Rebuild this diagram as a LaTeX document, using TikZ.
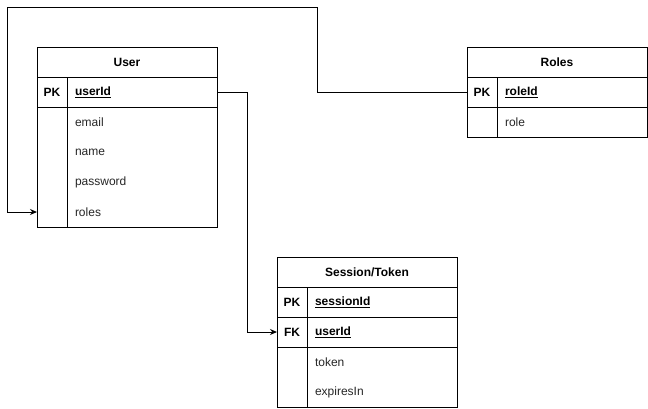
\documentclass[tikz,border=0pt]{standalone}
\usepackage{fontspec}
\setmainfont{Liberation Sans}
\usetikzlibrary{arrows.meta}
\begin{document}
\begin{tikzpicture}[x=1pt,y=-1pt,
  every node/.style={font=\fontsize{12}{14}\selectfont, inner sep=0pt, outer sep=0pt},
  box/.style={draw, line width=1pt},
  hdr/.style={box, anchor=north west, minimum width=180pt, minimum height=30pt, font=\fontsize{12}{14}\selectfont\bfseries},
  keycell/.style={box, anchor=north west, minimum width=30pt, minimum height=30pt, font=\fontsize{12}{14}\selectfont\bfseries},
  fieldcell/.style={box, anchor=north west, minimum width=150pt, minimum height=30pt, text width=134pt, align=left, font=\fontsize{12}{14}\selectfont\bfseries},
  keyblank/.style={anchor=north west, minimum width=30pt, minimum height=30pt},
  fieldtext/.style={anchor=north west, minimum width=150pt, minimum height=30pt, text width=134pt, align=left, text=black!85},
  conn/.style={line width=1pt},
  tip/.style={-{Stealth[length=7pt,width=6pt]}}
]
\useasboundingbox (0,0) rectangle (648,408);

% User table
\node[hdr] (uH) at (37,47) {User};
\node[keycell] (uPKk) at (37,77) {PK};
\node[fieldcell] (uPK) at (67,77) {\underline{userId}};
\node[box, anchor=north west, minimum width=30pt, minimum height=120pt] (uBk) at (37,107) {};
\node[box, anchor=north west, minimum width=150pt, minimum height=120pt] (uB) at (67,107) {};
\node[keyblank] (uEmailK) at (37,107) {};
\node[fieldtext] (uEmail) at (67,107) {email};
\node[keyblank] (uNameK) at (37,137) {};
\node[fieldtext] (uName) at (67,137) {name};
\node[keyblank] (uPassK) at (37,167) {};
\node[fieldtext] (uPass) at (67,167) {password};
\node[keyblank] (uRolesK) at (37,197) {};
\node[fieldtext] (uRoles) at (67,197) {roles};

% Roles table
\node[hdr] (rH) at (467,47) {Roles};
\node[keycell] (rPKk) at (467,77) {PK};
\node[fieldcell] (rPK) at (497,77) {\underline{roleId}};
\node[box, anchor=north west, minimum width=30pt, minimum height=30pt] (rBk) at (467,107) {};
\node[box, anchor=north west, minimum width=150pt, minimum height=30pt] (rB) at (497,107) {};
\node[fieldtext] (rRole) at (497,107) {role};

% Session/Token table
\node[hdr] (sH) at (277,257) {Session/Token};
\node[keycell] (sPKk) at (277,287) {PK};
\node[fieldcell] (sPK) at (307,287) {\underline{sessionId}};
\node[keycell] (sFKk) at (277,317) {FK};
\node[fieldcell] (sFK) at (307,317) {\underline{userId}};
\node[box, anchor=north west, minimum width=30pt, minimum height=60pt] (sBk) at (277,347) {};
\node[box, anchor=north west, minimum width=150pt, minimum height=60pt] (sB) at (307,347) {};
\node[fieldtext] (sToken) at (307,347) {token};
\node[fieldtext] (sExp) at (307,377) {expiresIn};

% Connectors
\draw[conn, tip] (rPKk.west) -- ++(-150,0) |- (7,7) |- (uRolesK.west);
\draw[conn, tip] (uPK.east) -- ++(30,0) |- (sFKk.west);
\end{tikzpicture}
\end{document}
